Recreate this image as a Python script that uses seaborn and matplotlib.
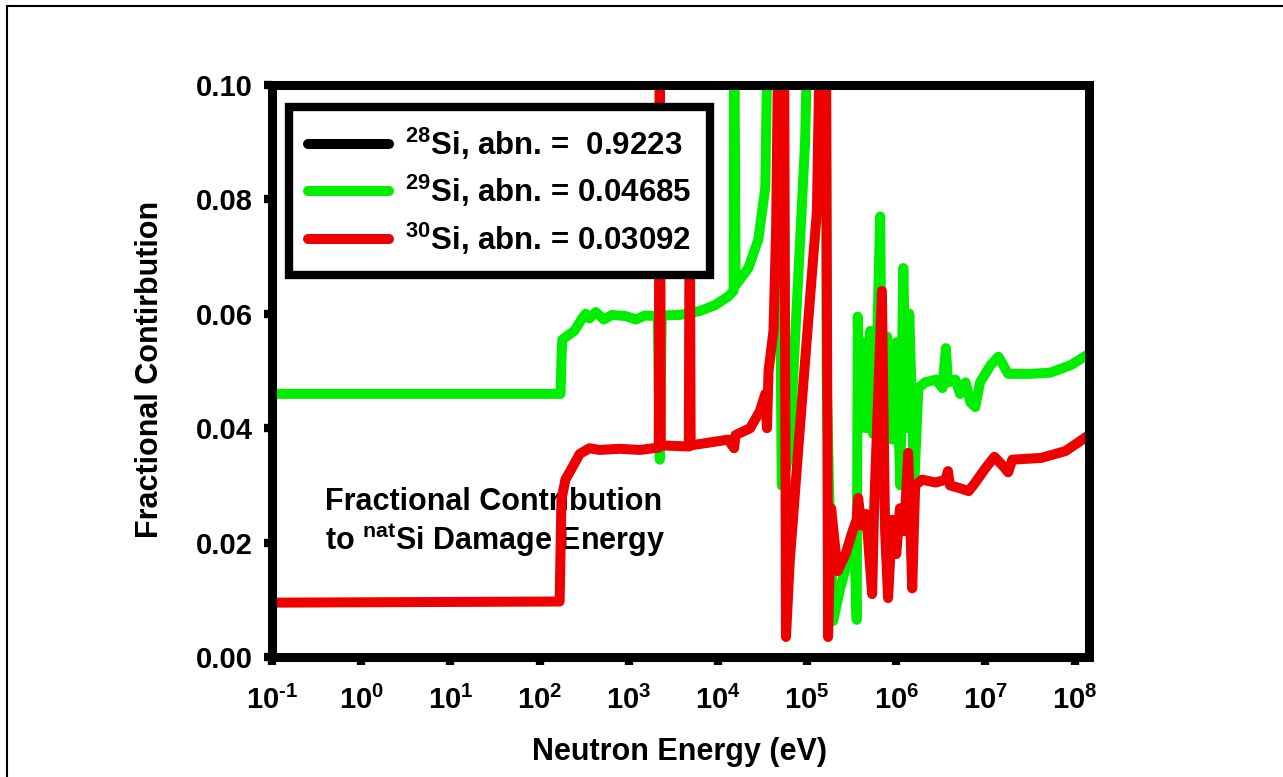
import pandas as pd
import numpy as np
import matplotlib
matplotlib.use('Agg')
import matplotlib.pyplot as plt
import seaborn as sns
from matplotlib.ticker import FormatStrFormatter, NullLocator
from matplotlib.lines import Line2D

# fractional contribution of each Si isotope to natSi damage energy
# energies in eV

si28_energy = [1e-1, 1.45e8]
si28_frac = [0.944, 0.909]   # off the top of the plot, only shows in legend

si29_energy = [1e-1, 172, 176, 180, 245, 295, 329, 363, 427, 525, 646, 925, 1200, 1514,
               2120, 2230, 2345, 3740, 6300, 9250, 1.3e4, 1.5e4, 1.52e4, 1.58e4, 2.2e4,
               2.84e4, 3.4e4, 3.7e4, 4.7e4, 5.2e4, 6.4e4, 7.3e4, 8.3e4, 9.5e4, 1.05e5,
               1.62e5, 1.66e5, 1.76e5, 1.96e5, 2.35e5, 3.0e5, 3.36e5, 3.6e5, 3.7e5, 3.98e5,
               4.3e5, 4.6e5, 5.1e5, 5.5e5, 6.1e5, 6.6e5, 6.9e5, 7.9e5, 9.0e5, 1.0e6,
               1.11e6, 1.2e6, 1.3e6, 1.4e6, 1.59e6, 1.77e6, 2.1e6, 2.8e6, 3.3e6, 3.6e6,
               3.8e6, 4.6e6, 5.2e6, 6.0e6, 6.8e6, 7.7e6, 8.7e6, 1.14e7, 1.4e7, 1.8e7,
               3.2e7, 5.3e7, 9.0e7, 1.45e8]
si29_frac = [0.046, 0.046, 0.052, 0.0555, 0.057, 0.059, 0.060, 0.0592, 0.0603, 0.059, 0.0598,
             0.0596, 0.059, 0.0597, 0.0596, 0.0345, 0.0597, 0.0598, 0.0605, 0.0615, 0.063,
             0.064, 0.12, 0.065, 0.068, 0.073, 0.082, 0.12, 0.12, 0.030, 0.036, 0.055, 0.072,
             0.090, 0.12, 0.12, 0.049, 0.030, 0.0063, 0.012, 0.018, 0.022, 0.0065, 0.0595,
             0.040, 0.055, 0.040, 0.057, 0.039, 0.055, 0.077, 0.042, 0.056, 0.038, 0.055,
             0.030, 0.068, 0.040, 0.060, 0.030, 0.047, 0.048, 0.0485, 0.047, 0.054, 0.048,
             0.0485, 0.046, 0.048, 0.0445, 0.0437, 0.048, 0.051, 0.0525, 0.0495, 0.0495,
             0.0497, 0.051, 0.053]

si30_energy = [1e-1, 168, 176, 195, 230, 282, 363, 470, 790, 1330, 2170, 2230, 2290, 4720,
               4830, 4950, 8100, 1.3e4, 1.52e4, 1.58e4, 2.3e4, 2.96e4, 3.4e4, 3.55e4, 3.7e4,
               4.2e4, 4.5e4, 4.84e4, 5.5e4, 5.8e4, 6.4e4, 8.3e4, 1.07e5, 1.29e5, 1.43e5,
               1.62e5, 1.72e5, 1.86e5, 2.2e5, 2.7e5, 3.24e5, 3.6e5, 3.74e5, 4.06e5, 4.6e5,
               5.37e5, 5.6e5, 6.9e5, 7.5e5, 8.1e5, 9.0e5, 1.0e6, 1.1e6, 1.23e6, 1.36e6,
               1.51e6, 1.63e6, 1.95e6, 2.76e6, 3.56e6, 3.8e6, 4.0e6, 5.2e6, 6.5e6, 7.7e6,
               1.0e7, 1.26e7, 1.55e7, 1.8e7, 2.0e7, 4.2e7, 7.9e7, 1.45e8]
si30_frac = [0.0095, 0.0097, 0.0275, 0.031, 0.033, 0.0355, 0.0365, 0.0362, 0.0364, 0.0362,
             0.0366, 0.12, 0.037, 0.0368, 0.085, 0.037, 0.0375, 0.038, 0.0365, 0.0388, 0.040,
             0.043, 0.046, 0.040, 0.050, 0.057, 0.075, 0.12, 0.12, 0.0035, 0.0168, 0.040,
             0.062, 0.078, 0.12, 0.12, 0.0035, 0.026, 0.015, 0.018, 0.022, 0.024, 0.0278,
             0.023, 0.025, 0.011, 0.024, 0.064, 0.022, 0.0103, 0.024, 0.018, 0.026, 0.022,
             0.0357, 0.012, 0.030, 0.031, 0.0305, 0.031, 0.0325, 0.030, 0.0295, 0.029, 0.0305,
             0.033, 0.035, 0.0335, 0.0323, 0.0345, 0.0348, 0.036, 0.0388]

labels = [r'$^{28}$Si, abn. =  0.9223',
          r'$^{29}$Si, abn. = 0.04685',
          r'$^{30}$Si, abn. = 0.03092']
colors = ['black', '#00ee00', '#ee0000']

x_ticks = [1e-1, 1e0, 1e1, 1e2, 1e3, 1e4, 1e5, 1e6, 1e7, 1e8]
x_ticklabels = [r'$10^{\text{-}1}$', r'$10^{0}$', r'$10^{1}$', r'$10^{2}$', r'$10^{3}$',
                r'$10^{4}$', r'$10^{5}$', r'$10^{6}$', r'$10^{7}$', r'$10^{8}$']
y_ticks = [0.0, 0.02, 0.04, 0.06, 0.08, 0.10]

df = pd.concat([
    pd.DataFrame({'energy': si28_energy, 'frac': si28_frac, 'isotope': labels[0]}),
    pd.DataFrame({'energy': si29_energy, 'frac': si29_frac, 'isotope': labels[1]}),
    pd.DataFrame({'energy': si30_energy, 'frac': si30_frac, 'isotope': labels[2]}),
], ignore_index=True)

sns.set_theme(style='white')
plt.rcParams['font.family'] = ['Liberation Sans', 'DejaVu Sans']
plt.rcParams['font.weight'] = 'bold'
plt.rcParams['text.color'] = 'black'
plt.rcParams['axes.labelweight'] = 'bold'
plt.rcParams['mathtext.fontset'] = 'custom'
plt.rcParams['mathtext.rm'] = 'Liberation Sans:bold'
plt.rcParams['mathtext.it'] = 'Liberation Sans:bold'
plt.rcParams['mathtext.bf'] = 'Liberation Sans:bold'
plt.rcParams['mathtext.default'] = 'rm'
plt.rcParams['lines.solid_capstyle'] = 'round'
plt.rcParams['lines.solid_joinstyle'] = 'round'

fig = plt.figure(figsize=(12.83, 7.77), dpi=100)
ax = fig.add_axes([272 / 1283, 1 - 657 / 777, 817 / 1283, 572 / 777])

sns.lineplot(data=df, x='energy', y='frac', hue='isotope', palette=colors,
             sort=False, estimator=None, linewidth=7.2, ax=ax, legend=False)

ax.set_xscale('log')
ax.set_xlim(1e-1, 1.45e8)
ax.set_ylim(0, 0.1)
ax.set_xticks(x_ticks, labels=x_ticklabels)
ax.xaxis.set_minor_locator(NullLocator())
ax.set_yticks(y_ticks)
ax.yaxis.set_major_formatter(FormatStrFormatter('%.2f'))
ax.tick_params(axis='both', which='major', bottom=True, left=True, direction='out',
               length=6, width=6, color='black', labelsize=21, labelcolor='black')
ax.tick_params(axis='x', pad=15)
ax.tick_params(axis='y', pad=8)
for s in ax.spines.values():
    s.set_linewidth(6.5)
    s.set_color('black')
    s.set_visible(True)

ax.set_xlabel('Neutron Energy (eV)', fontsize=22, fontweight='bold', color='black')
ax.set_ylabel('Fractional Contirbution', fontsize=22, fontweight='bold', color='black')
ax.xaxis.set_label_coords(0.499, -0.14)
ax.yaxis.set_label_coords(-0.131, 0.502)

ax.text(0.065, 0.257, 'Fractional Contribution', transform=ax.transAxes,
        fontsize=22, fontweight='bold', color='black', va='baseline', ha='left', zorder=1)
ax.text(0.065, 0.187, r'to $^{nat}$Si Damage Energy', transform=ax.transAxes,
        fontsize=22, fontweight='bold', color='black', va='baseline', ha='left', zorder=1)

handles = [Line2D([0], [0], color=c, lw=7.2, solid_capstyle='round') for c in colors]
leg = ax.legend(handles, labels, loc='upper left', bbox_to_anchor=(0.021, 0.9615),
                borderaxespad=0, fontsize=22.5, frameon=True, fancybox=False,
                framealpha=1, labelcolor='black',
                handlelength=2.6, handletextpad=0.5, labelspacing=0.35,
                borderpad=0.6)
leg.get_frame().set_linewidth(6)
leg.get_frame().set_edgecolor('black')
leg.get_frame().set_facecolor('white')
leg.set_zorder(5)

# thin frame around the whole picture
fig.add_artist(Line2D([0.0055, 0.0055], [0, 0.9923], transform=fig.transFigure,
                      color='black', lw=1.5))
fig.add_artist(Line2D([0.0055, 1], [0.9923, 0.9923], transform=fig.transFigure,
                      color='black', lw=1.5))

fig.savefig('out.png', dpi=100, facecolor='white')
